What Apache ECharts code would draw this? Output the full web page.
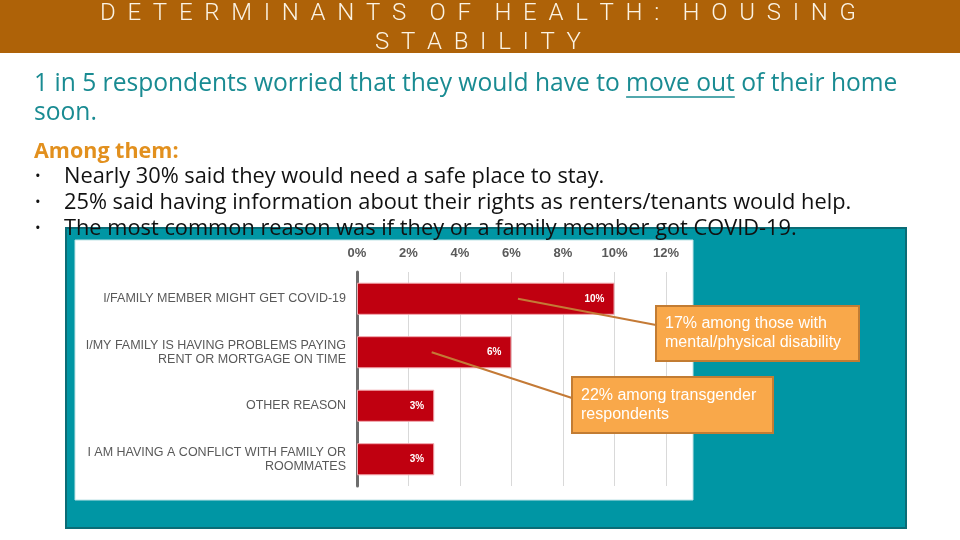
<!DOCTYPE html>
<html>
<head>
<meta charset="utf-8">
<script src="https://cdn.jsdelivr.net/npm/echarts@6/dist/echarts.min.js"></script>
<style>
  html, body { margin: 0; padding: 0; background: #fff; }
  #main { width: 960px; height: 540px; }
</style>
</head>
<body>
<div id="main"></div>
<script>
// 数据
var categories = [
    'I/FAMILY MEMBER MIGHT GET COVID-19',
    'I/MY FAMILY IS HAVING PROBLEMS PAYING\nRENT OR MORTGAGE ON TIME',
    'OTHER REASON',
    'I AM HAVING A CONFLICT WITH FAMILY OR\nROOMMATES'
];
var values = [10, 6, 3, 3];
var tickMax = 12;
var tickStep = 2;

// 标注框
var calloutTexts = [
    '17% among those with\nmental/physical disability',
    '22% among transgender\nrespondents'
];
var calloutAnchors = [[6.25, 0], [2.9, 1]];

var titleLines = ['DETERMINANTS OF HEALTH: HOUSING', 'STABILITY'];
var leadLines = ['1 in 5 respondents worried that they would have to ', 'move out', ' of their home', 'soon.'];
var bullets = [
    'Nearly 30% said they would need a safe place to stay.',
    '25% said having information about their rights as renters/tenants would help.',
    'The most common reason was if they or a family member got COVID-19.'
];

function spaced(s) {
    return s.split(' ').map(function (w) { return w.split('').join('  '); }).join('    ');
}

var myChart = echarts.init(document.getElementById('main'));
var bodyFont = "'Open Sans'";
var leadFont = '24.6px ' + bodyFont;
var bulletFont = '21.8px ' + bodyFont;

var option = {
    backgroundColor: '#fff',
    animation: false,
    grid: { left: 357, right: 294, top: 272, bottom: 54 },
    xAxis: {
        type: 'value',
        position: 'top',
        min: 0,
        max: tickMax,
        interval: tickStep,
        axisLine: { show: false },
        axisTick: { show: false },
        axisLabel: {
            formatter: '{value}%',
            margin: 12,
            color: '#595959',
            fontWeight: 'bold',
            fontSize: 13,
            fontFamily: 'Liberation Sans'
        },
        splitLine: { lineStyle: { color: '#d9d9d9', width: 1 } }
    },
    yAxis: {
        type: 'category',
        inverse: true,
        data: categories,
        axisLine: { lineStyle: { color: '#6d6d6d', width: 3 } },
        axisTick: { show: false },
        axisLabel: {
            margin: 11,
            color: '#595959',
            fontSize: 12.5,
            lineHeight: 14,
            align: 'right',
            fontFamily: 'Liberation Sans'
        }
    },
    series: [{
        type: 'bar',
        data: values,
        barCategoryGap: '40%',
        itemStyle: { color: '#c00010', borderColor: '#f2a7ad', borderWidth: 1 },
        label: {
            show: true,
            position: 'insideRight',
            formatter: '{c}%',
            color: '#fff',
            fontWeight: 'bold',
            fontSize: 10,
            fontFamily: 'Liberation Sans',
            distance: 10
        }
    }]
};
myChart.setOption(option);

// 版面装饰
var g = [];
g.push({ type: 'rect', z: 0, shape: { x: 0, y: 0, width: 960, height: 53 }, style: { fill: '#ae6208' } });
titleLines.forEach(function (t, i) {
    g.push({
        type: 'text', z: 20, x: 478, y: 14 + i * 29,
        style: { text: spaced(t), fill: '#fbf3e4', font: '300 24px Roboto', textAlign: 'center', textVerticalAlign: 'middle' }
    });
});
// 主题说明
g.push({ type: 'text', z: 20, x: 34, y: 84, style: { text: leadLines[0] + leadLines[1] + leadLines[2], fill: '#198b92', font: leadFont, textVerticalAlign: 'middle' } });
g.push({ type: 'text', z: 20, x: 34, y: 113, style: { text: leadLines[3], fill: '#198b92', font: leadFont, textVerticalAlign: 'middle' } });
g.push({ type: 'text', z: 20, x: 34, y: 152, style: { text: 'Among them:', fill: '#e2901e', font: 'bold 21.5px ' + bodyFont, textVerticalAlign: 'middle' } });
bullets.forEach(function (b, i) {
    g.push({ type: 'text', z: 20, x: 35, y: 177 + i * 26, style: { text: '•', fill: '#111', font: '15px ' + bodyFont, textVerticalAlign: 'middle' } });
    g.push({ type: 'text', z: 20, x: 64, y: 177 + i * 26, style: { text: b, fill: '#111', font: bulletFont, textVerticalAlign: 'middle' } });
});
// 背景框
g.push({ type: 'rect', z: -2, shape: { x: 66, y: 228, width: 840, height: 300 }, style: { fill: '#0096a4', stroke: '#0b6c76', lineWidth: 2 } });
g.push({ type: 'rect', z: -1, shape: { x: 75, y: 240, width: 618, height: 260 }, style: { fill: '#ffffff', stroke: '#bfe3e6', lineWidth: 1 } });

// "move out" 下划线
var ctxMeasure = document.createElement('canvas').getContext('2d');
ctxMeasure.font = leadFont;
var ux0 = 34 + ctxMeasure.measureText(leadLines[0]).width;
var ux1 = ux0 + ctxMeasure.measureText(leadLines[1]).width;
g.push({ type: 'line', z: 20, shape: { x1: ux0, y1: 97, x2: ux1, y2: 97 }, style: { stroke: '#198b92', lineWidth: 1.5 } });

// 标注
var boxes = [
    { x: 656, y: 306, w: 203, h: 55, endY: 325 },
    { x: 572, y: 377, w: 201, h: 56, endY: 398 }
];
calloutAnchors.forEach(function (a, i) {
    var p = myChart.convertToPixel({ seriesIndex: 0 }, a);
    var b = boxes[i];
    g.push({ type: 'line', z: 30, shape: { x1: p[0], y1: p[1], x2: b.x, y2: b.endY }, style: { stroke: '#c47a36', lineWidth: 2 } });
    g.push({ type: 'rect', z: 31, shape: { x: b.x, y: b.y, width: b.w, height: b.h }, style: { fill: '#f9a84a', stroke: '#c27c33', lineWidth: 2 } });
    g.push({ type: 'text', z: 32, x: b.x + 9, y: b.y + b.h / 2, style: { text: calloutTexts[i], fill: '#fff', font: '16px Liberation Sans', lineHeight: 19, textVerticalAlign: 'middle' } });
});
myChart.setOption({ graphic: g });
</script>
</body>
</html>
